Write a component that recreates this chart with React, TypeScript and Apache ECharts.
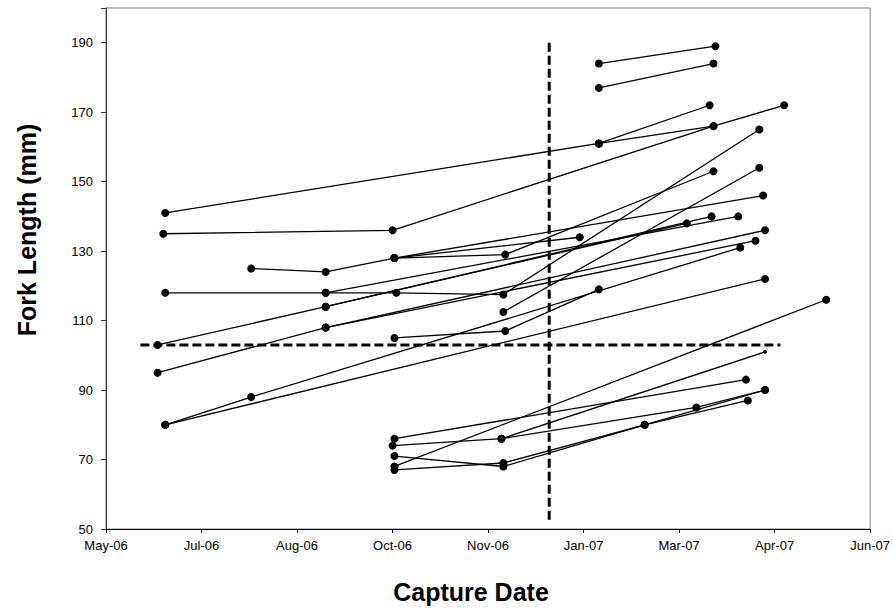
import React, { useEffect, useRef } from "react";
import * as echarts from "echarts";

// Capture dates are Excel serial day numbers (the original chart is an XY scatter with a date-formatted x axis)
const captureDates: number[][] = [
  [39108, 39169],
  [39108, 39168],
  [38881, 39108, 39166],
  [39108, 39168],
  [38880, 39000, 39168, 39205],
  [38926, 38965, 39001, 39059, 39168],
  [38881, 38965, 39002, 39058, 39192],
  [39001, 39059, 39108],
  [39058, 39192],
  [39001, 39194],
  [39001, 39098],
  [38877, 38965, 39167],
  [38877, 38965, 39190],
  [38965, 39181],
  [38965, 39195],
  [38881, 38926, 39182],
  [38881, 39195],
  [38965, 39154],
  [39001, 39185],
  [39000, 39057, 39159, 39195],
  [39057, 39195],
  [39001, 39058, 39132, 39186],
  [39001, 39058, 39132, 39195],
  [39001, 39227],
];

const forkLengths: number[][] = [
  [184, 189],
  [177, 184],
  [141, 161, 172],
  [161, 166],
  [135, 136, 166, 172],
  [125, 124, 128, 129, 153],
  [118, 118, 118, 117.5, 165],
  [105, 107, 119],
  [112.5, 154],
  [128, 146],
  [128, 134],
  [103, 114, 140],
  [95, 108, 133],
  [118, 140],
  [108, 136],
  [80, 88, 131],
  [80, 122],
  [114, 138],
  [76, 93],
  [74, 76, 85, 90],
  [76, 101],
  [71, 68, 80, 87],
  [67, 69, 80, 90],
  [68, 116],
];

// Reference lines
const sizeThresholdLine: number[][] = [[38868, 103], [39203, 103]];
const dateThresholdLine: number[][] = [[39082, 190], [39082, 52]];

const xTicks = { min: 38850, max: 39250, interval: 50 };
const yTicks = { min: 50, max: 200, interval: 20 };

const MONTHS = ["Jan", "Feb", "Mar", "Apr", "May", "Jun", "Jul", "Aug", "Sep", "Oct", "Nov", "Dec"];
function formatSerial(serial: number): string {
  const d = new Date(Date.UTC(1899, 11, 30) + Math.round(serial) * 86400000);
  return MONTHS[d.getUTCMonth()] + "-" + String(d.getUTCFullYear() % 100).padStart(2, "0");
}

const FONT = "Liberation Sans, Arial, sans-serif";

export default function App() {
  const ref = useRef<HTMLDivElement>(null);
  useEffect(() => {
    if (!ref.current) return;
    const chart = echarts.init(ref.current, null, { renderer: "svg" });
    const fishSeries = captureDates.map((dates, i) => ({
      type: "line",
      data: dates.map((d, j) => [d, forkLengths[i][j]]),
      symbol: "circle",
      symbolSize: (v: number[]) => (v[1] === 101 ? 4 : 8),
      itemStyle: { color: "#000" },
      lineStyle: { color: "#000", width: 1.3 },
      silent: true,
      z: 3,
    }));
    const dashed = (data: number[][]) => ({
      type: "line",
      data,
      symbol: "none",
      lineStyle: { color: "#000", width: 3, type: [9, 4] },
      silent: true,
      z: 2,
    });
    chart.setOption({
      animation: false,
      backgroundColor: "#fff",
      grid: {
        left: 106,
        right: 21,
        top: 8,
        bottom: 79,
        show: true,
        borderColor: "#808080",
        borderWidth: 1,
      },
      xAxis: {
        type: "value",
        min: xTicks.min,
        max: xTicks.max,
        interval: xTicks.interval,
        axisLine: { show: true, lineStyle: { color: "#000", width: 1 } },
        axisTick: { show: true, length: 4, lineStyle: { color: "#000" } },
        axisLabel: {
          formatter: (v: number) => formatSerial(v),
          fontFamily: FONT,
          fontSize: 13,
          color: "#000",
          margin: 10,
          showMinLabel: true,
          showMaxLabel: true,
        },
        splitLine: { show: false },
      },
      yAxis: {
        type: "value",
        min: yTicks.min,
        max: yTicks.max,
        interval: yTicks.interval,
        axisLine: { show: true, lineStyle: { color: "#333", width: 1 } },
        axisTick: { show: true, length: 5, lineStyle: { color: "#333" } },
        axisLabel: {
          formatter: (v: number) => (v >= yTicks.max ? "" : String(v)),
          fontFamily: FONT,
          fontSize: 13,
          color: "#000",
          margin: 13,
        },
        splitLine: { show: false },
      },
      graphic: [
        {
          type: "text",
          x: 27,
          y: 230,
          rotation: Math.PI / 2,
          style: {
            text: "Fork Length (mm)",
            fontFamily: FONT,
            fontSize: 25,
            fontWeight: "bold",
            fill: "#000",
            textAlign: "center",
            textVerticalAlign: "middle",
          },
        },
        {
          type: "text",
          x: 471,
          y: 592,
          style: {
            text: "Capture Date",
            fontFamily: FONT,
            fontSize: 25,
            fontWeight: "bold",
            fill: "#000",
            textAlign: "center",
            textVerticalAlign: "middle",
          },
        },
      ],
      series: [...fishSeries, dashed(sizeThresholdLine), dashed(dateThresholdLine)],
    });
    return () => chart.dispose();
  }, []);
  return (
    <div
      ref={ref}
      style={{ position: "fixed", left: 0, top: 0, width: 893, height: 608, background: "#fff" }}
    />
  );
}
